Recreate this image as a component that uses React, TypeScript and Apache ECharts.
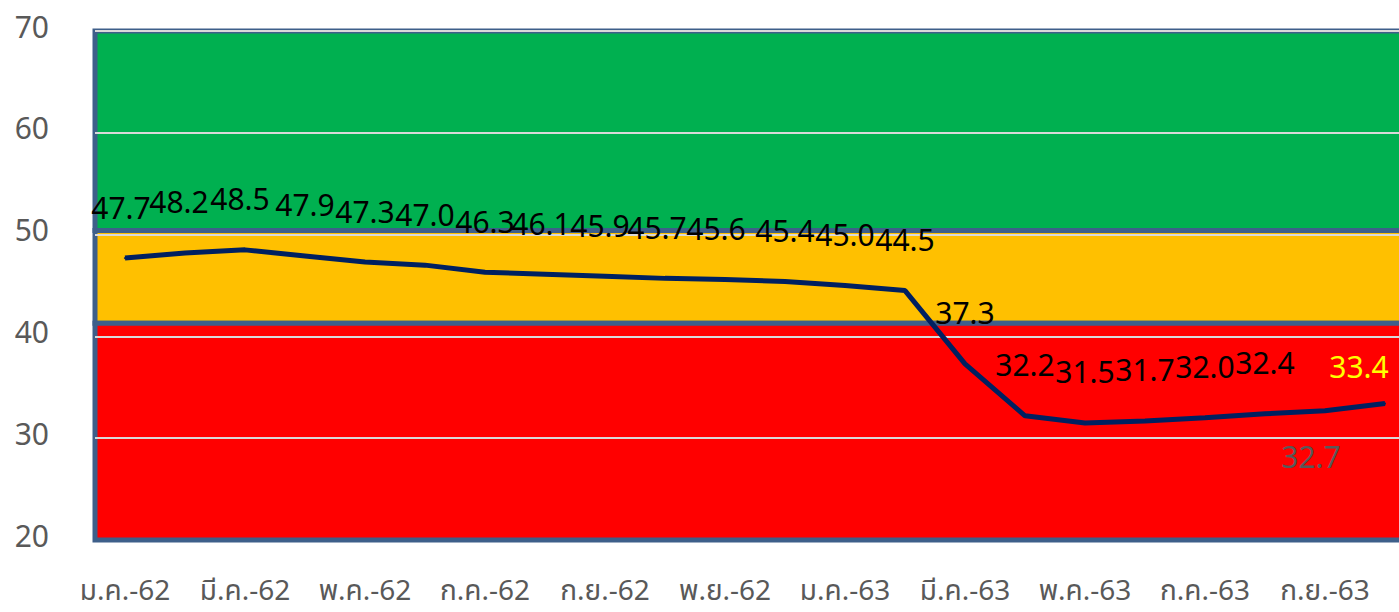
import React, { useEffect, useRef } from "react";
import * as echarts from "echarts";

const months = [
  "ม.ค.-62", "ก.พ.-62", "มี.ค.-62", "เม.ย.-62", "พ.ค.-62", "มิ.ย.-62",
  "ก.ค.-62", "ส.ค.-62", "ก.ย.-62", "ต.ค.-62", "พ.ย.-62", "ธ.ค.-62",
  "ม.ค.-63", "ก.พ.-63", "มี.ค.-63", "เม.ย.-63", "พ.ค.-63", "มิ.ย.-63",
  "ก.ค.-63", "ส.ค.-63", "ก.ย.-63", "ต.ค.-63",
];
const values = [
  47.7, 48.2, 48.5, 47.9, 47.3, 47.0, 46.3, 46.1, 45.9, 45.7, 45.6,
  45.4, 45.0, 44.5, 37.3, 32.2, 31.5, 31.7, 32.0, 32.4, 32.7, 33.4,
];
const yMin = 20;
const yMax = 70;
const yStep = 10;
const gridValues = [30, 40, 50, 60, 70];
const bandLevels = [
  { from: 50.4, to: 70, color: "#00B050" },
  { from: 41.3, to: 50.4, color: "#FFC000" },
  { from: 20, to: 41.3, color: "#FF0000" },
];

const FONT = "Tahoma, 'Noto Sans', 'Noto Sans Thai', sans-serif";

export default function App() {
  const ref = useRef<HTMLDivElement>(null);
  useEffect(() => {
    if (!ref.current) return;
    const chart = echarts.init(ref.current, undefined, { renderer: "svg" });

    const labelDx: Record<number, number> = { 0: -4, 1: -6, 2: -5, 7: -4, 8: -5, 9: -8, 10: -9 };
    const lineData = values.map((v, i) => {
      const item: any = { value: v };
      if (i === 20) {
        item.label = { position: "bottom", distance: 30, offset: [-14, 0], color: "#595959" };
      } else if (i === 21) {
        item.label = { position: "top", distance: 21, offset: [-26, 0], color: "#FFFF00" };
      } else if (labelDx[i] !== undefined) {
        item.label = { offset: [labelDx[i], 0] };
      }
      return item;
    });

    const option: any = {
      animation: false,
      grid: { left: 95, top: 31, height: 509, width: 1320, containLabel: false },
      xAxis: {
        type: "category",
        data: months,
        boundaryGap: true,
        axisLine: { show: false },
        axisTick: { show: false },
        splitLine: { show: false },
        axisLabel: {
          interval: 1,
          fontSize: 28,
          lineHeight: 28,
          color: "#595959",
          fontFamily: FONT,
          margin: 35,
        },
      },
      yAxis: {
        type: "value",
        min: yMin,
        max: yMax,
        interval: yStep,
        axisLine: { show: false },
        axisTick: { show: false },
        splitLine: { show: false },
        axisLabel: {
          fontSize: 30,
          color: "#595959",
          fontFamily: FONT,
          margin: 46,
          verticalAlign: "bottom",
          lineHeight: 10,
        },
      },
      series: [
        {
          type: "line",
          data: [],
          silent: true,
          z: 1,
          markArea: {
            silent: true,
            z: 1,
            data: bandLevels.map((b) => [
              { yAxis: b.from, itemStyle: { color: b.color, borderColor: "#3E5F8A", borderWidth: 5 } },
              { yAxis: b.to },
            ]),
          },
          markLine: {
            silent: true,
            symbol: "none",
            z: 1.5,
            label: { show: false },
            lineStyle: { color: "#D9D9D9", width: 2, type: "solid" },
            data: gridValues.map((g) => ({ yAxis: g })),
          },
        },
        {
          type: "line",
          data: lineData,
          z: 3,
          symbol: "circle",
          symbolSize: 2,
          itemStyle: { color: "#002060" },
          lineStyle: { color: "#002060", width: 5 },
          label: {
            show: true,
            position: "top",
            distance: 35,
            fontSize: 30,
            color: "#000000",
            fontFamily: FONT,
            formatter: (p: any) => Number(p.value).toFixed(1),
          },
        },
      ],
    };
    chart.setOption(option);
    return () => chart.dispose();
  }, []);

  return (
    <div style={{ position: "fixed", left: 0, top: 0, width: 1399, height: 612, overflow: "hidden", background: "#fff" }}>
      <div ref={ref} style={{ width: 1440, height: 612 }} />
    </div>
  );
}
